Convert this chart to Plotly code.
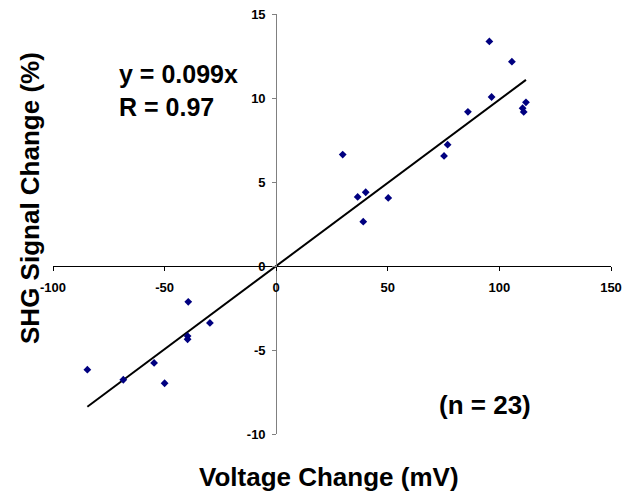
import plotly.graph_objects as go

# Data
voltage_mv = [95.5, 105.6, 96.5, 85.9, 111.9, 110.4, 110.9, 29.8, 76.8, 75.2,
              36.5, 40.1, 50.2, 39.0, -39.4, -29.7, -39.7, -39.7, -54.7, -84.6,
              -68.5, -50.0]
shg_change = [13.37, 12.16, 10.06, 9.18, 9.74, 9.39, 9.17, 6.63, 7.22, 6.55,
              4.11, 4.39, 4.05, 2.64, -2.13, -3.39, -4.17, -4.36, -5.77, -6.17,
              -6.77, -6.98]
slope = 0.099
x_ticks = [-100, -50, 0, 50, 100, 150]
y_ticks = [-10, -5, 0, 5, 10, 15]
x_tick_labels = ["-100", "-50", "0", "50", "100", "150"]
y_tick_labels = ["-10", "-5", "0", "5", "10", "15"]

x_rng = [-100, 150]
y_rng = [-10, 15]

fit_x = [min(voltage_mv), max(voltage_mv)]
fit_y = [slope * v for v in fit_x]

FONT = "Liberation Sans, Arial, sans-serif"

fig = go.Figure()
fig.add_trace(go.Scatter(x=fit_x, y=fit_y, mode="lines",
                         line=dict(color="black", width=2), hoverinfo="skip"))
fig.add_trace(go.Scatter(x=voltage_mv, y=shg_change, mode="markers",
                         marker=dict(symbol="diamond", size=6, color="#000080",
                                     line=dict(width=0))))

xpos = (0 - y_rng[0]) / (y_rng[1] - y_rng[0])
ypos = (0 - x_rng[0]) / (x_rng[1] - x_rng[0])

tick_font = dict(size=13, family=FONT, weight="bold", color="black")

fig.update_layout(
    width=625, height=496,
    margin=dict(l=53, r=14, t=14, b=62, autoexpand=False),
    paper_bgcolor="white", plot_bgcolor="white",
    showlegend=False,
    font=dict(family=FONT, color="black"),
    xaxis=dict(range=x_rng, tickvals=x_ticks,
               ticktext=["<b>%s</b>" % t for t in x_tick_labels],
               showgrid=False, zeroline=False, automargin=False,
               showline=True, linecolor="black", linewidth=1,
               ticks="outside", ticklen=4, tickcolor="black", tickwidth=1,
               anchor="free", position=xpos,
               tickfont=tick_font, ticklabelstandoff=5),
    yaxis=dict(range=y_rng, tickvals=y_ticks,
               ticktext=["<b>%s</b>" % t for t in y_tick_labels],
               showgrid=False, zeroline=False, automargin=False,
               showline=True, linecolor="#808080", linewidth=1,
               ticks="outside", ticklen=4, tickcolor="#808080", tickwidth=1,
               anchor="free", position=ypos,
               tickfont=tick_font, ticklabelstandoff=4),
)

ann_font = dict(family=FONT, size=25, color="black", weight="bold")
fig.add_annotation(x=-71.3, y=11.43, xref="x", yref="y", text="y = 0.099x",
                   showarrow=False, xanchor="left", yanchor="middle", font=ann_font)
fig.add_annotation(x=-71.3, y=9.48, xref="x", yref="y", text="R = 0.97",
                   showarrow=False, xanchor="left", yanchor="middle", font=ann_font)
fig.add_annotation(x=71.9, y=-8.27, xref="x", yref="y", text="(n = 23)",
                   showarrow=False, xanchor="left", yanchor="middle",
                   font=dict(family=FONT, size=26, color="black", weight="bold"))
fig.add_annotation(x=0.4946, y=-0.1024, xref="paper", yref="paper",
                   text="Voltage Change (mV)", showarrow=False,
                   xanchor="center", yanchor="middle",
                   font=dict(family=FONT, size=26, color="black", weight="bold"))
fig.add_annotation(x=-0.0412, y=0.562, xref="paper", yref="paper",
                   text="SHG Signal Change (%)", showarrow=False, textangle=-90,
                   xanchor="center", yanchor="middle",
                   font=dict(family=FONT, size=26, color="black", weight="bold"))

fig.write_html("out.html")
